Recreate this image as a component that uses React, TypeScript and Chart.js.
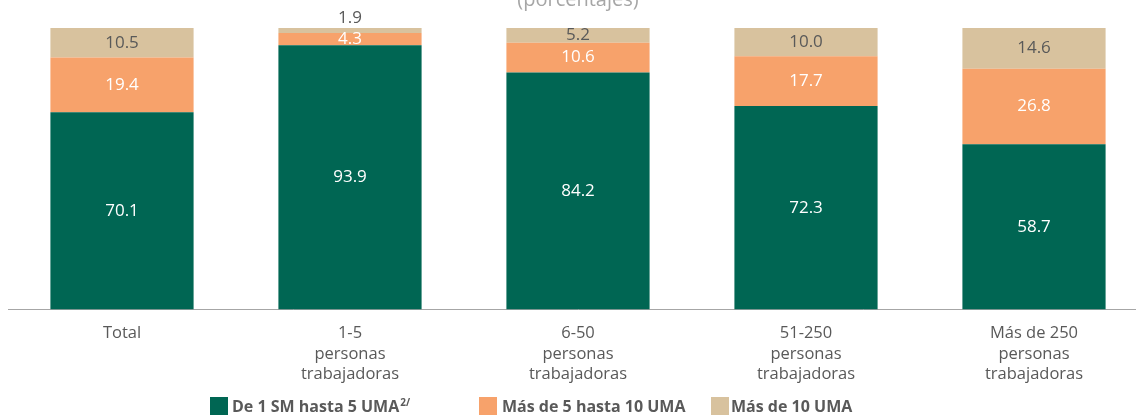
import React, { useEffect, useRef } from "react";
import { Chart, registerables } from "chart.js";

Chart.register(...registerables);

const categories: string[][] = [
  ["Total"],
  ["1-5", "personas", "trabajadoras"],
  ["6-50", "personas", "trabajadoras"],
  ["51-250", "personas", "trabajadoras"],
  ["Más de 250", "personas", "trabajadoras"],
];

const serieBaja: number[] = [70.1, 93.9, 84.2, 72.3, 58.7];
const serieMedia: number[] = [19.4, 4.3, 10.6, 17.7, 26.8];
const serieAlta: number[] = [10.5, 1.9, 5.2, 10.0, 14.6];

const seriesNames: string[] = ["De 1 SM hasta 5 UMA", "Más de 5 hasta 10 UMA", "Más de 10 UMA"];
const seriesSup: string[] = ["2/", "", ""];
const seriesColors: string[] = ["#006653", "#F7A26B", "#D8C29E"];
const labelColors: string[] = ["#ffffff", "#ffffff", "#595959"];
const titleText = "(porcentajes)";

const FONT = "'Open Sans', 'DejaVu Sans', sans-serif";

const valueLabels = {
  id: "valueLabels",
  afterDatasetsDraw(chart: any) {
    const ctx = chart.ctx;
    ctx.save();
    ctx.font = `17px ${FONT}`;
    ctx.textAlign = "center";
    chart.data.datasets.forEach((ds: any, i: number) => {
      const meta = chart.getDatasetMeta(i);
      meta.data.forEach((el: any, j: number) => {
        const v = ds.data[j];
        const h = Math.abs(el.base - el.y);
        const txt = v.toFixed(1);
        ctx.textBaseline = "middle";
        if (i === 2 && h < 12) {
          ctx.fillStyle = "#595959";
          ctx.fillText(txt, el.x, el.y - 10);
        } else {
          ctx.fillStyle = labelColors[i];
          ctx.fillText(txt, el.x, (el.y + el.base) / 2);
        }
      });
    });
    ctx.restore();
  },
};

export default function App() {
  const ref = useRef<HTMLCanvasElement | null>(null);
  useEffect(() => {
    if (!ref.current) return;
    const chart = new Chart(ref.current, {
      type: "bar",
      data: {
        labels: categories as any,
        datasets: [serieBaja, serieMedia, serieAlta].map((d, i) => ({
          label: seriesNames[i],
          data: d,
          backgroundColor: seriesColors[i],
          borderWidth: 0,
          barPercentage: 0.628,
          categoryPercentage: 1,
        })),
      },
      options: {
        animation: false,
        responsive: false,
        layout: { padding: { left: 8, right: 0, top: 0, bottom: 19 } },
        plugins: {
          legend: { display: false },
          tooltip: { enabled: false },
          title: {
            display: true,
            text: titleText,
            color: "#a6a6a6",
            font: { family: FONT, size: 20, weight: "normal" },
            padding: { top: 8, bottom: 16 },
          },
        },
        scales: {
          x: {
            stacked: true,
            grid: { display: false, drawTicks: false },
            border: { display: true, color: "#a6a6a6", width: 1 },
            ticks: {
              color: "#595959",
              padding: 14,
              maxRotation: 0,
              autoSkip: false,
              font: { family: FONT, size: 16.5, lineHeight: 1.22 },
            },
          },
          y: {
            stacked: true,
            display: false,
            min: 0,
            max: 100,
          },
        },
      },
      plugins: [valueLabels],
    });
    return () => chart.destroy();
  }, []);

  const legendX = [
    { box: 210, text: 232 },
    { box: 479, text: 502 },
    { box: 711, text: 731 },
  ];

  return (
    <div
      style={{
        position: "fixed",
        left: 0,
        top: 0,
        width: 1136,
        height: 417,
        overflow: "hidden",
        background: "#ffffff",
      }}
    >
      <canvas
        ref={ref}
        width={1148}
        height={437}
        style={{ position: "absolute", left: 0, top: -20, width: 1148, height: 437 }}
      />
      {seriesNames.map((name, i) => (
        <React.Fragment key={name}>
          <div
            style={{
              position: "absolute",
              left: legendX[i].box,
              top: 397,
              width: 18,
              height: 18,
              background: seriesColors[i],
            }}
          />
          <div
            style={{
              position: "absolute",
              left: legendX[i].text,
              top: 395,
              fontFamily: FONT,
              fontWeight: "bold",
              fontSize: 16,
              lineHeight: "22px",
              color: "#595959",
              whiteSpace: "nowrap",
            }}
          >
            {name}
            {seriesSup[i] ? (
              <sup style={{ fontSize: 10, verticalAlign: "top", lineHeight: "14px", marginLeft: 1 }}>
                {seriesSup[i]}
              </sup>
            ) : null}
          </div>
        </React.Fragment>
      ))}
    </div>
  );
}
